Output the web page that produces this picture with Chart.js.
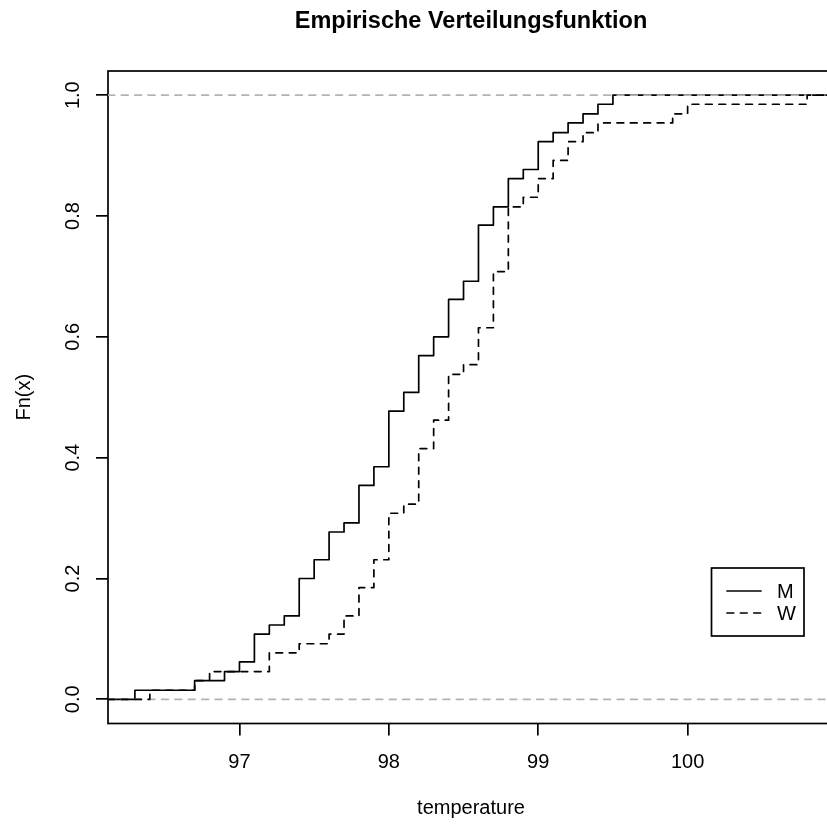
<!DOCTYPE html>
<html><head><meta charset="utf-8">
<script src="https://cdn.jsdelivr.net/npm/chart.js@4/dist/chart.umd.min.js"></script>
<style>html,body{margin:0;padding:0;background:#fff;overflow:hidden}#wrap{width:840px;height:825px}</style>
</head><body><div id="wrap"><canvas id="c" width="840" height="825"></canvas></div>
<script>
// ---- data ----
const titleText = 'Empirische Verteilungsfunktion';
const xLabel = 'temperature';
const yLabel = 'Fn(x)';
const seriesNames = ['M', 'W'];
const mTemps = [96.3, 96.7, 96.9, 97.0, 97.1, 97.2, 97.3, 97.4, 97.5, 97.6, 97.7, 97.8, 97.9, 98.0, 98.1, 98.2, 98.3, 98.4, 98.5, 98.6, 98.7, 98.8, 98.9, 99.0, 99.1, 99.2, 99.3, 99.4, 99.5];
const mFn    = [0.015, 0.031, 0.046, 0.062, 0.108, 0.123, 0.138, 0.200, 0.231, 0.277, 0.292, 0.354, 0.385, 0.477, 0.508, 0.569, 0.600, 0.662, 0.692, 0.785, 0.815, 0.862, 0.877, 0.923, 0.938, 0.954, 0.969, 0.985, 1.000];
const wTemps = [96.4, 96.7, 96.8, 97.2, 97.4, 97.6, 97.7, 97.8, 97.9, 98.0, 98.1, 98.2, 98.3, 98.4, 98.5, 98.6, 98.7, 98.8, 98.9, 99.0, 99.1, 99.2, 99.3, 99.4, 99.9, 100.0, 100.8];
const wFn    = [0.015, 0.031, 0.046, 0.077, 0.092, 0.108, 0.138, 0.185, 0.231, 0.308, 0.323, 0.415, 0.462, 0.538, 0.554, 0.615, 0.708, 0.815, 0.831, 0.862, 0.892, 0.923, 0.938, 0.954, 0.969, 0.985, 1.000];
const xTicks = [97, 98, 99, 100];
const yTicks = [0, 0.2, 0.4, 0.6, 0.8, 1.0];
const refLevels = [0, 1];
const xRange = [96.12, 100.98];
const yRange = [-0.04, 1.04];

// ---- styling ----
const FONT = "'Liberation Sans', Arial, Helvetica, sans-serif";
const LW = 1.7;
const DASH = [6.7, 6.7];

function ecdfPoints(t, f) {
  const pts = [{x: xRange[0], y: 0}];
  t.forEach((v, i) => pts.push({x: v, y: f[i]}));
  pts.push({x: xRange[1], y: f[f.length - 1]});
  return pts;
}

const datasets = [
  {label: seriesNames[1], data: ecdfPoints(wTemps, wFn), borderColor: '#000', borderWidth: LW,
   borderDash: DASH, borderCapStyle: 'round', borderJoinStyle: 'round', stepped: 'before',
   pointRadius: 0, order: 1, isSeries: true},
  ...refLevels.map(lv => ({label: 'ref' + lv, data: [{x: xRange[0], y: lv}, {x: xRange[1], y: lv}],
   borderColor: '#b3b3b3', borderWidth: LW, borderDash: DASH, borderCapStyle: 'round',
   pointRadius: 0, order: 2, isSeries: false})),
  {label: seriesNames[0], data: ecdfPoints(mTemps, mFn), borderColor: '#000', borderWidth: LW,
   borderCapStyle: 'round', borderJoinStyle: 'round', stepped: 'before',
   pointRadius: 0, order: 3, isSeries: true}
];

const framePlugin = {
  id: 'frame',
  beforeDatasetsDraw(chart) {
    const {ctx, chartArea: a} = chart;
    ctx.save();
    ctx.strokeStyle = '#000';
    ctx.lineWidth = LW;
    ctx.strokeRect(a.left, a.top, a.right - a.left, a.bottom - a.top);
    ctx.restore();
  }
};

const legendPlugin = {
  id: 'rlegend',
  afterDraw(chart) {
    const {ctx} = chart;
    const ser = chart.data.datasets.filter(d => d.isSeries)
      .sort((a, b) => seriesNames.indexOf(a.label) - seriesNames.indexOf(b.label));
    const bx = 711.5, by = 568, bw = 92.5, bh = 68;
    ctx.save();
    ctx.fillStyle = '#fff';
    ctx.fillRect(bx, by, bw, bh);
    ctx.strokeStyle = '#000';
    ctx.lineWidth = LW;
    ctx.strokeRect(bx, by, bw, bh);
    ctx.font = '20px ' + FONT;
    ctx.textBaseline = 'middle';
    ctx.fillStyle = '#000';
    ser.forEach((d, i) => {
      const y = 591 + i * 22;
      ctx.beginPath();
      ctx.lineCap = 'round';
      ctx.setLineDash(d.borderDash || []);
      ctx.moveTo(727, y);
      ctx.lineTo(761, y);
      ctx.stroke();
      ctx.setLineDash([]);
      ctx.fillText(d.label, 777, y + 1);
    });
    ctx.restore();
  }
};

new Chart(document.getElementById('c'), {
  type: 'line',
  data: {datasets},
  plugins: [framePlugin, legendPlugin],
  options: {
    responsive: false,
    animation: false,
    devicePixelRatio: 1,
    layout: {padding: {left: 12.5, right: 6, top: 0, bottom: 5}},
    plugins: {
      legend: {display: false},
      tooltip: {enabled: false},
      title: {display: true, text: titleText, fullSize: false, color: '#000',
              font: {family: FONT, size: 23.5, weight: 'bold'},
              padding: {top: 7, bottom: 35.8}}
    },
    scales: {
      x: {
        type: 'linear', min: xRange[0], max: xRange[1],
        afterBuildTicks: s => { s.ticks = xTicks.map(v => ({value: v})); },
        afterFit: s => { s.height = 96.5; },
        ticks: {font: {family: FONT, size: 20}, color: '#000', padding: 14.5, maxRotation: 0,
                autoSkip: false, callback: v => String(v)},
        grid: {drawOnChartArea: false, drawTicks: true, tickLength: 12, color: '#000', lineWidth: LW},
        border: {display: false},
        title: {display: true, text: xLabel, color: '#000', font: {family: FONT, size: 20}, padding: 0}
      },
      y: {
        type: 'linear', min: yRange[0], max: yRange[1],
        afterBuildTicks: s => { s.ticks = yTicks.map(v => ({value: v})); },
        afterFit: s => { s.width = 95.5; },
        ticks: {font: {family: FONT, size: 20}, color: '#000', padding: 8.6, minRotation: 90, maxRotation: 90,
                crossAlign: 'center', autoSkip: false, callback: v => Number(v).toFixed(1)},
        grid: {drawOnChartArea: false, drawTicks: true, tickLength: 12, color: '#000', lineWidth: LW},
        border: {display: false},
        title: {display: true, text: yLabel, color: '#000', font: {family: FONT, size: 20}, padding: 0}
      }
    }
  }
});
</script>
</body></html>
